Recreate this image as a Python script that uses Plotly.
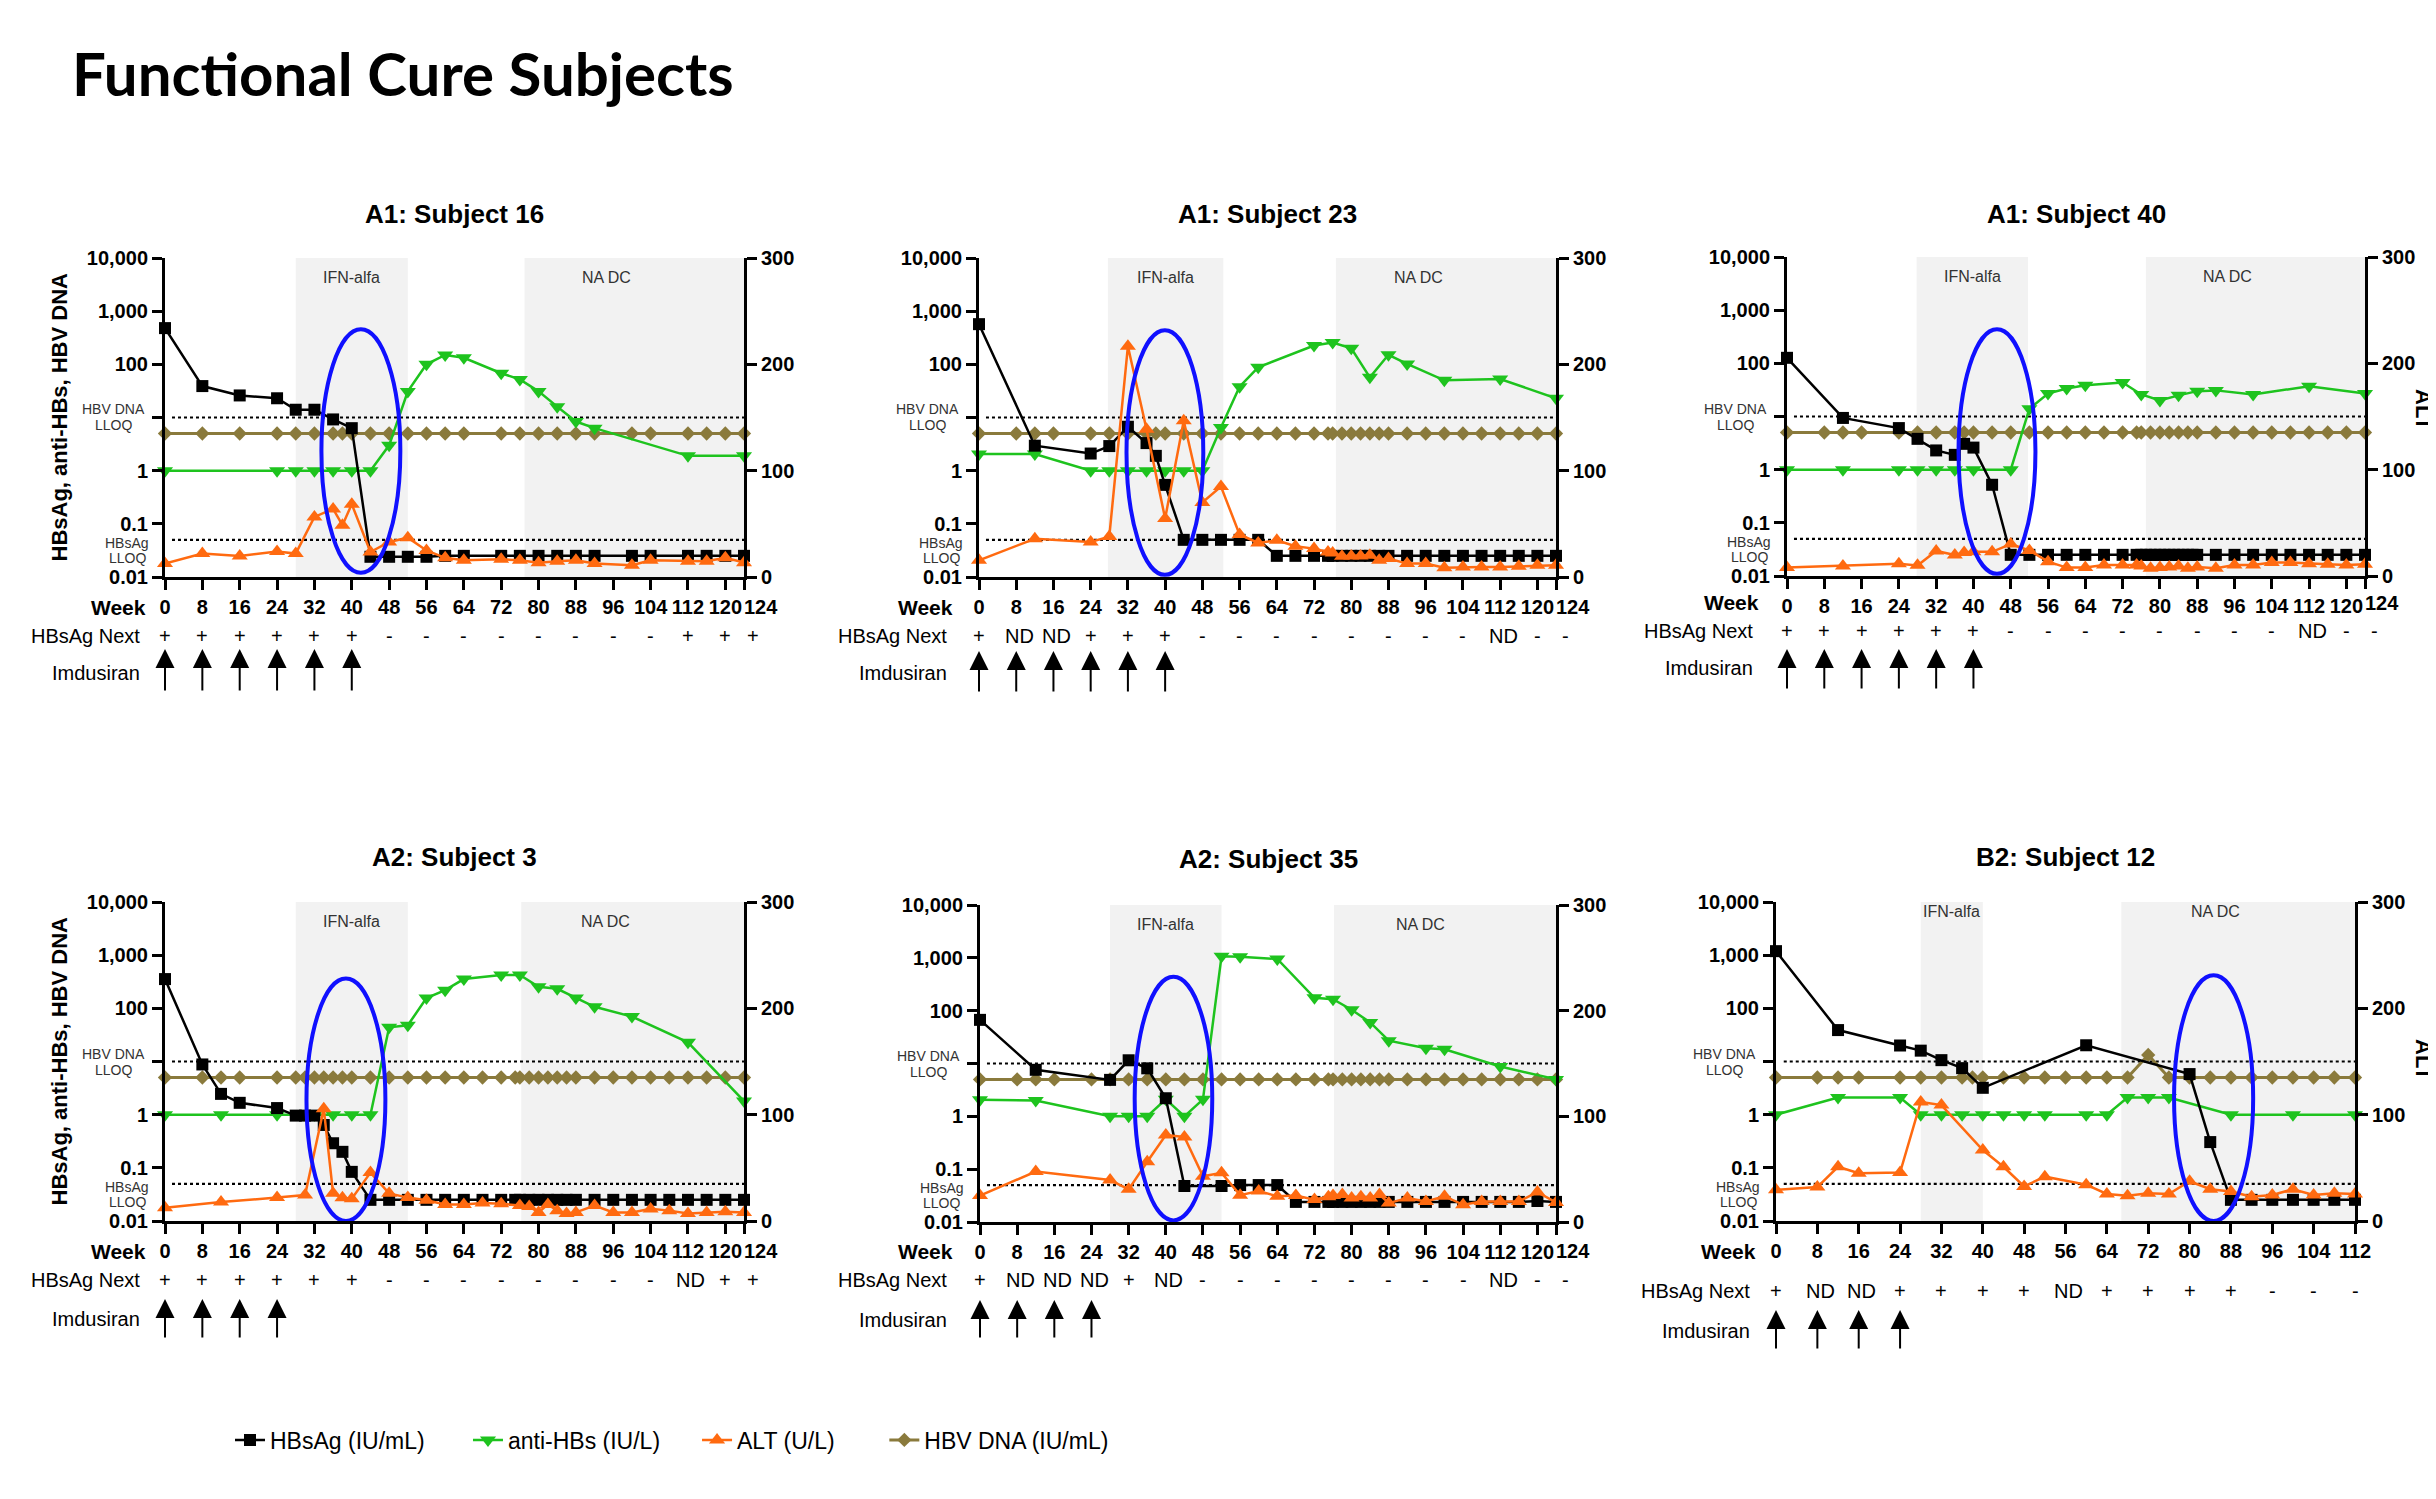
import plotly.graph_objects as go
import math

W, H = 2436, 1499
OFF = 8  # default page body margin of the written html
FONT = "Arial, Liberation Sans, sans-serif"

# ---------------- shared tick labels ----------------
week_ticks_124 = [0, 8, 16, 24, 32, 40, 48, 56, 64, 72, 80, 88, 96, 104, 112, 120, 124]
week_ticks_112 = [0, 8, 16, 24, 32, 40, 48, 56, 64, 72, 80, 88, 96, 104, 112]
log_ticks = [0.01, 0.1, 1, 10, 100, 1000, 10000]
log_tick_text = ["0.01", "0.1", "1", "", "100", "1,000", "10,000"]
alt_ticks = [0, 100, 200, 300]

# ---------------- A1: Subject 16 ----------------
s16_hbsag_wk = [0, 8, 16, 24, 28, 32, 36, 40, 44, 48, 52, 56, 60, 64, 72, 76, 80, 84, 88, 92, 100, 104, 112, 116, 120, 124]
s16_hbsag = [480, 39, 26, 23, 14, 14, 9.2, 6.3, 0.024, 0.024, 0.024, 0.024, 0.025, 0.025, 0.025, 0.025, 0.025, 0.025,
             0.025, 0.025, 0.025, 0.025, 0.025, 0.025, 0.025, 0.025]
s16_anti_wk = [0, 24, 28, 32, 36, 40, 44, 48, 52, 56, 60, 64, 72, 76, 80, 84, 88, 92, 112, 124]
s16_anti = [1, 1, 1, 1, 1, 1, 1, 3.0, 31, 100, 150, 133, 68, 52, 31, 16, 8.4, 6.3, 1.9, 1.9]
s16_alt_wk = [0, 8, 16, 24, 28, 32, 36, 38, 40, 44, 48, 52, 56, 60, 64, 72, 76, 80, 84, 88, 92, 100, 104, 112, 116, 120, 124]
s16_alt = [12.6, 22, 19.8, 24, 22, 56.5, 64, 48.7, 68.5, 23.5, 33, 37, 25, 18, 15.7, 16.6, 15.7, 13.5, 14.8, 15.7,
           12.6, 11, 15.7, 14.8, 14.8, 18, 13.5]
s16_dna_wk = [0, 8, 16, 24, 28, 32, 36, 38, 40, 44, 48, 52, 56, 60, 64, 72, 76, 80, 84, 88, 92, 100, 104, 112, 116, 120, 124]
s16_dna = [5, 5, 5, 5, 5, 5, 5, 5, 5, 5, 5, 5, 5, 5, 5, 5, 5, 5, 5, 5, 5, 5, 5, 5, 5, 5, 5]
s16_next = ["+", "+", "+", "+", "+", "+", "-", "-", "-", "-", "-", "-", "-", "-", "+", "+", "+"]
s16_imdusiran = [0, 8, 16, 24, 32, 40]

# ---------------- A1: Subject 23 ----------------
s23_hbsag_wk = [0, 12, 24, 28, 32, 36, 38, 40, 44, 48, 52, 56, 60, 64, 68, 72, 75, 76, 78, 80, 82, 84, 86, 88, 92, 96,
                100, 104, 108, 112, 116, 120, 124]
s23_hbsag = [570, 2.95, 2.1, 2.9, 6.7, 3.3, 1.9, 0.54, 0.05, 0.05, 0.05, 0.05, 0.05, 0.025, 0.025, 0.025, 0.025, 0.025,
             0.025, 0.025, 0.025, 0.025, 0.025, 0.025, 0.025, 0.025, 0.025, 0.025, 0.025, 0.025, 0.025, 0.025, 0.025]
s23_anti_wk = [0, 12, 24, 28, 32, 36, 40, 44, 48, 52, 56, 60, 72, 76, 80, 84, 88, 92, 100, 112, 124]
s23_anti = [2.05, 2.05, 1, 1, 1, 1, 1, 1, 1, 6.5, 38, 88, 226, 258, 201, 57, 151, 102, 50, 53, 23]
s23_alt_wk = [0, 12, 24, 28, 32, 36, 40, 44, 48, 52, 56, 60, 64, 68, 72, 75, 76, 78, 80, 82, 84, 86, 88, 92, 96, 100,
              104, 108, 112, 116, 120, 124]
s23_alt = [15.7, 36, 33, 38, 217, 139, 55, 147, 70, 85, 40, 32, 34.5, 29, 26.7, 23.5, 22.6, 19.5, 19.8, 19.8, 20.4,
           15.7, 17.3, 12.6, 12.6, 8.8, 9.4, 9.4, 9.4, 10, 11, 11]
s23_dna_wk = [0, 8, 12, 16, 24, 28, 32, 36, 38, 40, 44, 48, 52, 56, 60, 64, 68, 72, 75, 76, 78, 80, 82, 84, 86, 88, 92,
              96, 100, 104, 108, 112, 116, 120, 124]
s23_dna = [5, 5, 5, 5, 5, 5, 5, 5, 5, 5, 5, 5, 5, 5, 5, 5, 5, 5, 5, 5, 5, 5, 5, 5, 5, 5, 5, 5, 5, 5, 5, 5, 5, 5, 5]
s23_next = ["+", "ND", "ND", "+", "+", "+", "-", "-", "-", "-", "-", "-", "-", "-", "ND", "-", "-"]
s23_imdusiran = [0, 8, 16, 24, 32, 40]

# ---------------- A1: Subject 40 ----------------
s40_hbsag_wk = [0, 12, 24, 28, 32, 36, 38, 40, 44, 48, 52, 56, 60, 64, 68, 72, 75, 76, 77, 78, 79, 80, 81, 82, 83, 84,
                85, 86, 87, 88, 92, 96, 100, 104, 108, 112, 116, 120, 124]
s40_hbsag = [127, 9.4, 6.05, 3.8, 2.3, 1.9, 3.06, 2.6, 0.52, 0.025, 0.025, 0.025, 0.025, 0.025, 0.025, 0.025, 0.025,
             0.025, 0.025, 0.025, 0.025, 0.025, 0.025, 0.025, 0.025, 0.025, 0.025, 0.025, 0.025, 0.025, 0.025, 0.025,
             0.025, 0.025, 0.025, 0.025, 0.025, 0.025, 0.025]
s40_anti_wk = [0, 12, 24, 28, 32, 36, 40, 48, 52, 56, 60, 64, 72, 76, 80, 84, 88, 92, 100, 112, 124]
s40_anti = [1, 1, 1, 1, 1, 1, 1, 1, 14, 27, 33.5, 38.7, 43.5, 26, 20, 25, 30, 31, 26, 37, 27]
s40_alt_wk = [0, 12, 24, 28, 32, 36, 38, 40, 44, 48, 52, 56, 60, 64, 68, 72, 75, 76, 78, 80, 82, 84, 86, 88, 92, 96,
              100, 104, 108, 112, 116, 120, 124]
s40_alt = [7.9, 9.4, 11.6, 10, 23.6, 19.8, 22, 22.7, 22.7, 30, 24, 13.5, 7.9, 7.9, 10.4, 10.4, 10.4, 9.4, 7.2, 7.9,
           8.5, 9.4, 7.2, 8.5, 7.2, 10.4, 10.4, 12.6, 12.6, 11.6, 11, 10.4, 11]
s40_dna_wk = [0, 8, 12, 16, 24, 28, 32, 36, 38, 40, 44, 48, 52, 56, 60, 64, 68, 72, 75, 76, 78, 80, 82, 84, 86, 88, 92,
              96, 100, 104, 108, 112, 116, 120, 124]
s40_dna = [5, 5, 5, 5, 5, 5, 5, 5, 5, 5, 5, 5, 5, 5, 5, 5, 5, 5, 5, 5, 5, 5, 5, 5, 5, 5, 5, 5, 5, 5, 5, 5, 5, 5, 5]
s40_next = ["+", "+", "+", "+", "+", "+", "-", "-", "-", "-", "-", "-", "-", "-", "ND", "-", "-"]
s40_imdusiran = [0, 8, 16, 24, 32, 40]

# ---------------- A2: Subject 3 ----------------
s3_hbsag_wk = [0, 8, 12, 16, 24, 28, 30, 32, 34, 36, 38, 40, 44, 48, 52, 56, 60, 64, 68, 72, 75, 76, 78, 80, 82, 84, 86,
               88, 92, 96, 100, 104, 108, 112, 116, 120, 124]
s3_hbsag = [355, 8.8, 2.46, 1.67, 1.33, 0.96, 0.96, 0.96, 0.64, 0.29, 0.2, 0.084, 0.025, 0.025, 0.025, 0.025, 0.025,
            0.025, 0.025, 0.025, 0.025, 0.025, 0.025, 0.025, 0.025, 0.025, 0.025, 0.025, 0.025, 0.025, 0.025, 0.025,
            0.025, 0.025, 0.025, 0.025, 0.025]
s3_anti_wk = [0, 12, 24, 32, 36, 40, 44, 48, 52, 56, 60, 64, 72, 76, 80, 84, 88, 92, 100, 112, 124]
s3_anti = [1, 1, 1, 1, 1, 1, 1, 44, 48, 156, 220, 355, 425, 425, 255, 233, 156, 107, 70, 23, 1.8]
s3_alt_wk = [0, 12, 24, 30, 34, 36, 38, 40, 44, 48, 52, 56, 60, 64, 68, 72, 76, 78, 80, 82, 84, 86, 88, 92, 96, 100,
             104, 108, 112, 116, 120, 124]
s3_alt = [12.4, 17.9, 22, 24.4, 105.6, 26, 21.8, 21, 45.5, 26, 22, 19.5, 15.6, 15.6, 17, 16.2, 14.6, 13.6, 8.1, 15.6,
          9.75, 7.1, 8.1, 14.6, 8.1, 8.1, 11.4, 9.75, 7.1, 8.1, 8.8, 8.1]
s3_dna_wk = [0, 8, 12, 16, 24, 28, 30, 32, 34, 36, 38, 40, 44, 48, 52, 56, 60, 64, 68, 72, 75, 76, 78, 80, 82, 84, 86,
             88, 92, 96, 100, 104, 108, 112, 116, 120, 124]
s3_dna = [5, 5, 5, 5, 5, 5, 5, 5, 5, 5, 5, 5, 5, 5, 5, 5, 5, 5, 5, 5, 5, 5, 5, 5, 5, 5, 5, 5, 5, 5, 5, 5, 5, 5, 5, 5, 5]
s3_next = ["+", "+", "+", "+", "+", "+", "-", "-", "-", "-", "-", "-", "-", "-", "ND", "+", "+"]
s3_imdusiran = [0, 8, 16, 24]

# ---------------- A2: Subject 35 ----------------
s35_hbsag_wk = [0, 12, 28, 32, 36, 40, 44, 52, 56, 60, 64, 68, 72, 75, 76, 78, 80, 82, 84, 86, 88, 92, 96, 100, 104,
                108, 112, 116, 120, 124]
s35_hbsag = [67, 7.6, 4.9, 11.5, 8.1, 2.2, 0.048, 0.048, 0.05, 0.05, 0.05, 0.024, 0.024, 0.024, 0.024, 0.024, 0.024,
             0.024, 0.024, 0.024, 0.024, 0.024, 0.024, 0.024, 0.024, 0.024, 0.024, 0.024, 0.025, 0.024]
s35_anti_wk = [0, 12, 28, 32, 36, 40, 44, 48, 52, 56, 64, 72, 76, 80, 84, 88, 96, 100, 112, 124]
s35_anti = [2.05, 2.0, 1, 1, 1, 2.1, 1, 2.1, 1075, 1050, 950, 175, 165, 104, 60, 27, 19.4, 18.6, 8.75, 5.0]
s35_alt_wk = [0, 12, 28, 32, 36, 40, 44, 48, 52, 56, 60, 64, 68, 72, 75, 76, 78, 80, 82, 84, 86, 88, 92, 96, 100, 104,
              108, 112, 116, 120, 124]
s35_alt = [25, 47.8, 39.7, 30.9, 57, 82.3, 80.4, 43.3, 46.5, 25.4, 29.3, 24.4, 25, 21.2, 23.8, 25, 26, 22.8, 23.8, 22.8,
           26, 17.9, 22.8, 19.5, 24.4, 16.3, 19.5, 19.5, 19.5, 28.3, 18.5]
s35_dna_wk = [0, 8, 12, 16, 24, 28, 32, 36, 40, 44, 48, 52, 56, 60, 64, 68, 72, 75, 76, 78, 80, 82, 84, 86, 88, 92, 96,
              100, 104, 108, 112, 116, 120, 124]
s35_dna = [5, 5, 5, 5, 5, 5, 5, 5, 5, 5, 5, 5, 5, 5, 5, 5, 5, 5, 5, 5, 5, 5, 5, 5, 5, 5, 5, 5, 5, 5, 5, 5, 5, 5]
s35_next = ["+", "ND", "ND", "ND", "+", "ND", "-", "-", "-", "-", "-", "-", "-", "-", "ND", "-", "-"]
s35_imdusiran = [0, 8, 16, 24]

# ---------------- B2: Subject 12 ----------------
s12_hbsag_wk = [0, 12, 24, 28, 32, 36, 40, 60, 80, 84, 88, 92, 96, 100, 104, 108, 112]
s12_hbsag = [1190, 39, 20, 16, 10.6, 7.5, 3.2, 20.2, 5.8, 0.305, 0.025, 0.025, 0.025, 0.025, 0.025, 0.025, 0.025]
s12_anti_wk = [0, 12, 24, 28, 32, 36, 40, 44, 48, 52, 60, 64, 68, 72, 76, 88, 100, 112]
s12_anti = [1, 2.1, 2.1, 1, 1, 1, 1, 1, 1, 1, 1, 1, 2.1, 2.1, 2.1, 1, 1, 1]
s12_alt_wk = [0, 8, 12, 16, 24, 28, 32, 40, 44, 48, 52, 60, 64, 68, 72, 76, 80, 84, 88, 92, 96, 100, 104, 108, 112]
s12_alt = [29.3, 31.9, 51, 44.9, 45.6, 112, 109, 66.7, 51, 32.5, 41.7, 34.2, 25.4, 23.8, 26, 25.4, 37.4, 29.9, 27.7,
           22.8, 24.4, 29.9, 24.4, 26, 25.4]
s12_dna_wk = [0, 8, 12, 16, 24, 28, 32, 36, 38, 40, 44, 48, 52, 56, 60, 64, 68, 72, 76, 80, 84, 88, 92, 96, 100, 104,
              108, 112]
s12_dna = [5, 5, 5, 5, 5, 5, 5, 5, 5, 5, 5, 5, 5, 5, 5, 5, 5, 13.3, 5, 5, 5, 5, 5, 5, 5, 5, 5, 5]
s12_next = ["+", "ND", "ND", "+", "+", "+", "+", "ND", "+", "+", "+", "+", "-", "-", "-"]
s12_imdusiran = [0, 8, 16, 24]

# ---------------- panel layout (pixel boxes etc.) ----------------
panels = [
    dict(title="A1: Subject 16", box=(165, 258, 744, 577), title_y=214, xmax=124, ticks=week_ticks_124,
         hbsag=(s16_hbsag_wk, s16_hbsag), anti=(s16_anti_wk, s16_anti), alt=(s16_alt_wk, s16_alt),
         dna=(s16_dna_wk, s16_dna), nxt=s16_next, imdu=s16_imdusiran,
         ifn=(28, 52), nadc=(77, 124), nadc_lbl=94.5, ell=(33.5, 50.4, 4, 233),
         rows=(604, 636, 673, 649, 692), lbl_right=148, ytitle=True, alttitle=False),
    dict(title="A1: Subject 23", box=(979, 258, 1556, 577), title_y=214, xmax=124, ticks=week_ticks_124,
         hbsag=(s23_hbsag_wk, s23_hbsag), anti=(s23_anti_wk, s23_anti), alt=(s23_alt_wk, s23_alt),
         dna=(s23_dna_wk, s23_dna), nxt=s23_next, imdu=s23_imdusiran,
         ifn=(27.7, 52.5), nadc=(76.7, 124), nadc_lbl=94.5, ell=(31.7, 48.2, 2, 232),
         rows=(604, 636, 673, 651, 693), lbl_right=955, ytitle=False, alttitle=False),
    dict(title="A1: Subject 40", box=(1787, 257, 2365, 576), title_y=214, xmax=124, ticks=week_ticks_124,
         hbsag=(s40_hbsag_wk, s40_hbsag), anti=(s40_anti_wk, s40_anti), alt=(s40_alt_wk, s40_alt),
         dna=(s40_dna_wk, s40_dna), nxt=s40_next, imdu=s40_imdusiran,
         ifn=(27.8, 51.7), nadc=(77, 124), nadc_lbl=94.5, ell=(36.8, 53.3, 2, 232),
         rows=(600, 631, 668, 649, 690), lbl_right=1761, ytitle=False, alttitle=True, alt_y=410),
    dict(title="A2: Subject 3", box=(165, 902, 744, 1221), title_y=857, xmax=124, ticks=week_ticks_124,
         hbsag=(s3_hbsag_wk, s3_hbsag), anti=(s3_anti_wk, s3_anti), alt=(s3_alt_wk, s3_alt),
         dna=(s3_dna_wk, s3_dna), nxt=s3_next, imdu=s3_imdusiran,
         ifn=(28, 52), nadc=(76.3, 124), nadc_lbl=94.3, ell=(30.3, 47.2, 0, 228),
         rows=(1248, 1280, 1319, 1299, 1339), lbl_right=148, ytitle=True, alttitle=False),
    dict(title="A2: Subject 35", box=(980, 905, 1556, 1222), title_y=859, xmax=124, ticks=week_ticks_124,
         hbsag=(s35_hbsag_wk, s35_hbsag), anti=(s35_anti_wk, s35_anti), alt=(s35_alt_wk, s35_alt),
         dna=(s35_dna_wk, s35_dna), nxt=s35_next, imdu=s35_imdusiran,
         ifn=(28, 52), nadc=(76.2, 124), nadc_lbl=94.8, ell=(33.3, 50, 1.5, 232),
         rows=(1248, 1280, 1320, 1300, 1339), lbl_right=955, ytitle=False, alttitle=False),
    dict(title="B2: Subject 12", box=(1776, 902, 2355, 1221), title_y=857, xmax=112, ticks=week_ticks_112,
         hbsag=(s12_hbsag_wk, s12_hbsag), anti=(s12_anti_wk, s12_anti), alt=(s12_alt_wk, s12_alt),
         dna=(s12_dna_wk, s12_dna), nxt=s12_next, imdu=s12_imdusiran,
         ifn=(28, 40), nadc=(66.8, 112), nadc_lbl=85, ell=(77, 92.3, 0, 231),
         rows=(1248, 1291, 1331, 1310, 1350), lbl_right=1758, ytitle=False, alttitle=True, alt_y=1060),
]

C_HBSAG = "#000000"
C_ANTI = "#1ec31e"
C_ALT = "#ff6a10"
C_DNA = "#8a7a3c"
C_ELL = "#1010ff"
C_SHADE = "#f2f2f2"
TICK_SIZE = 20

fig = go.Figure()
shapes = []
annotations = []
layout = {}


def px(v):
    return (v - OFF) / W


def py(v):
    return 1 - (v - OFF) / H


def small_label(text, x, yref, yval, yshift):
    return dict(xref="paper", yref=yref, x=x, y=yval, yshift=yshift, text=text, showarrow=False,
                xanchor="center", yanchor="middle", font=dict(family=FONT, size=14, color="#333333"))


for i, p in enumerate(panels):
    x0, y0, x1, y1 = p["box"]
    xa = "x" if i == 0 else f"x{i + 1}"
    ylog = "y" if i == 0 else f"y{2 * i + 1}"
    yalt = f"y{2 * i + 2}"
    xkey = "xaxis" if i == 0 else f"xaxis{i + 1}"
    ylogkey = "yaxis" if i == 0 else f"yaxis{2 * i + 1}"
    yaltkey = f"yaxis{2 * i + 2}"
    wk_y, nx_y, im_y, ar_top, ar_bot = p["rows"]

    ticktext = [str(t) for t in p["ticks"]]
    if p["xmax"] == 124:
        # the last label sits just right of its tick (as in the original), drawn separately
        ticktext[-1] = ""
        annotations.append(dict(xref=xa, yref="paper", x=p["ticks"][-1], y=py(wk_y + 3), text=str(p["ticks"][-1]),
                                showarrow=False, xshift=17, xanchor="center", yanchor="middle",
                                font=dict(family=FONT, size=TICK_SIZE, color="black", weight="bold")))

    common = dict(showline=True, linewidth=3, linecolor="black", ticks="outside", ticklen=10, tickwidth=3,
                  tickcolor="black", showgrid=False, zeroline=False, automargin=False,
                  tickfont=dict(family=FONT, size=TICK_SIZE, color="black", weight="bold"))
    layout[xkey] = dict(domain=[px(x0), px(x1)], anchor=ylog, range=[0, p["xmax"]], tickangle=0,
                        tickmode="array", tickvals=p["ticks"], ticktext=ticktext, **common)
    layout[ylogkey] = dict(domain=[py(y1), py(y0)], anchor=xa, type="log", range=[-2, 4],
                           tickmode="array", tickvals=log_ticks, ticktext=log_tick_text, **common)
    layout[yaltkey] = dict(overlaying=ylog, anchor=xa, side="right", range=[0, 300],
                           tickmode="array", tickvals=alt_ticks, **common)

    first = i == 0
    fig.add_trace(go.Scatter(x=p["dna"][0], y=p["dna"][1], xaxis=xa, yaxis=ylog, mode="lines+markers",
                             name="HBV DNA (IU/mL)", legendrank=4, showlegend=first, cliponaxis=False,
                             line=dict(color=C_DNA, width=3), marker=dict(symbol="diamond", size=11, color=C_DNA)))
    fig.add_trace(go.Scatter(x=p["anti"][0], y=p["anti"][1], xaxis=xa, yaxis=ylog, mode="lines+markers",
                             name="anti-HBs (IU/L)" + "\u00a0" * 5, legendrank=2, showlegend=first,
                             cliponaxis=False, line=dict(color=C_ANTI, width=2.5),
                             marker=dict(symbol="triangle-down", size=14, color=C_ANTI)))
    fig.add_trace(go.Scatter(x=p["hbsag"][0], y=p["hbsag"][1], xaxis=xa, yaxis=ylog, mode="lines+markers",
                             name="HBsAg (IU/mL)" + "\u00a0" * 6, legendrank=1, showlegend=first,
                             cliponaxis=False, line=dict(color=C_HBSAG, width=2.5),
                             marker=dict(symbol="square", size=12, color=C_HBSAG)))
    fig.add_trace(go.Scatter(x=p["alt"][0], y=p["alt"][1], xaxis=xa, yaxis=yalt, mode="lines+markers",
                             name="ALT (U/L)" + "\u00a0" * 7, legendrank=3, showlegend=first,
                             cliponaxis=False, line=dict(color=C_ALT, width=2.5),
                             marker=dict(symbol="triangle-up", size=14, color=C_ALT)))

    # shaded treatment periods
    for a, b in (p["ifn"], p["nadc"]):
        shapes.append(dict(type="rect", xref=xa, yref=f"{ylog} domain", x0=a, x1=b, y0=0, y1=1,
                           fillcolor=C_SHADE, line=dict(width=0), layer="below"))
    # LLOQ dotted lines
    for v in (10, 0.05):
        shapes.append(dict(type="line", xref=xa, yref=ylog, x0=1.5, x1=p["xmax"], y0=v, y1=v,
                           line=dict(color="black", width=2.2, dash="dot"), layer="below"))
    # highlight ellipse
    ex0, ex1, ey0, ey1 = p["ell"]
    shapes.append(dict(type="circle", xref=xa, yref=yalt, x0=ex0, x1=ex1, y0=ey0, y1=ey1,
                       line=dict(color=C_ELL, width=4)))

    # titles and labels
    annotations.append(dict(xref="paper", yref="paper", x=px((x0 + x1) / 2), y=py(p["title_y"]),
                            text=p["title"], showarrow=False, xanchor="center", yanchor="middle",
                            font=dict(family=FONT, size=26, color="black", weight="bold")))
    lab_y = py(y0 + (10 if p["xmax"] == 112 else 19))
    annotations.append(dict(xref=xa, yref="paper", x=(p["ifn"][0] + p["ifn"][1]) / 2, y=lab_y, text="IFN-alfa",
                            showarrow=False, xanchor="center", yanchor="middle",
                            font=dict(family=FONT, size=16, color="#333333")))
    annotations.append(dict(xref=xa, yref="paper", x=p["nadc_lbl"], y=lab_y, text="NA DC",
                            showarrow=False, xanchor="center", yanchor="middle",
                            font=dict(family=FONT, size=16, color="#333333")))
    # LLOQ labels beside the left axis
    annotations.append(small_label("HBV DNA", px(x0 - 52), ylog, math.log10(10), 8))
    annotations.append(small_label("LLOQ", px(x0 - 52), ylog, math.log10(10), -8))
    annotations.append(small_label("HBsAg", px(x0 - 38), ylog, math.log10(0.05), -3))
    annotations.append(small_label("LLOQ", px(x0 - 38), ylog, math.log10(0.05), -18))

    annotations.append(dict(xref="paper", yref="paper", x=px(p["lbl_right"]), y=py(wk_y + 3), text="Week",
                            showarrow=False, xanchor="right", yanchor="middle",
                            font=dict(family=FONT, size=21, color="black", weight="bold")))
    annotations.append(dict(xref="paper", yref="paper", x=px(p["lbl_right"] - 6), y=py(nx_y),
                            text="HBsAg Next", showarrow=False, xanchor="right", yanchor="middle",
                            font=dict(family=FONT, size=20, color="black")))
    annotations.append(dict(xref="paper", yref="paper", x=px(p["lbl_right"] - 6), y=py(im_y),
                            text="Imdusiran", showarrow=False, xanchor="right", yanchor="middle",
                            font=dict(family=FONT, size=20, color="black")))
    for k, (wk, txt) in enumerate(zip(p["ticks"], p["nxt"])):
        shift = 9 if (p["xmax"] == 124 and k == len(p["ticks"]) - 1) else 0
        if txt == "ND":
            shift += 3
        annotations.append(dict(xref=xa, yref="paper", x=wk, y=py(nx_y), text=txt, showarrow=False,
                                xshift=shift, xanchor="center", yanchor="middle",
                                font=dict(family=FONT, size=20, color="black")))
    for wk in p["imdu"]:
        annotations.append(dict(xref=xa, yref="paper", x=wk, y=py(ar_top), text="", showarrow=True,
                                ax=0, ay=ar_bot - ar_top, arrowhead=2, arrowsize=1.9, arrowwidth=2,
                                arrowcolor="black", standoff=0))

    if p["ytitle"]:
        annotations.append(dict(xref="paper", yref="paper", x=px(59), y=py((y0 + y1) / 2),
                                text="HBsAg, anti-HBs, HBV DNA", textangle=-90, showarrow=False,
                                xanchor="center", yanchor="middle",
                                font=dict(family=FONT, size=22, color="black", weight="bold")))
    if p["alttitle"]:
        annotations.append(dict(xref="paper", yref="paper", x=px(2424), y=py(p["alt_y"]),
                                text="ALT", textangle=90, showarrow=False, xanchor="center", yanchor="middle",
                                font=dict(family=FONT, size=22, color="black", weight="bold")))

annotations.append(dict(xref="paper", yref="paper", x=px(70), y=py(73), xanchor="left", yanchor="middle",
                        text="Functional Cure Subjects", showarrow=False,
                        font=dict(family="Lato, Open Sans, sans-serif", size=60, color="black", weight="bold")))

fig.update_layout(
    width=W, height=H, margin=dict(l=0, r=0, t=0, b=0, pad=0, autoexpand=False),
    paper_bgcolor="white", plot_bgcolor="rgba(0,0,0,0)",
    shapes=shapes, annotations=annotations,
    showlegend=True,
    legend=dict(orientation="h", x=px(230), y=py(1440), xanchor="left", yanchor="middle",
                font=dict(family=FONT, size=23, color="black"), itemwidth=30, bgcolor="rgba(0,0,0,0)"),
    **layout,
)

fig.write_html("out.html")
